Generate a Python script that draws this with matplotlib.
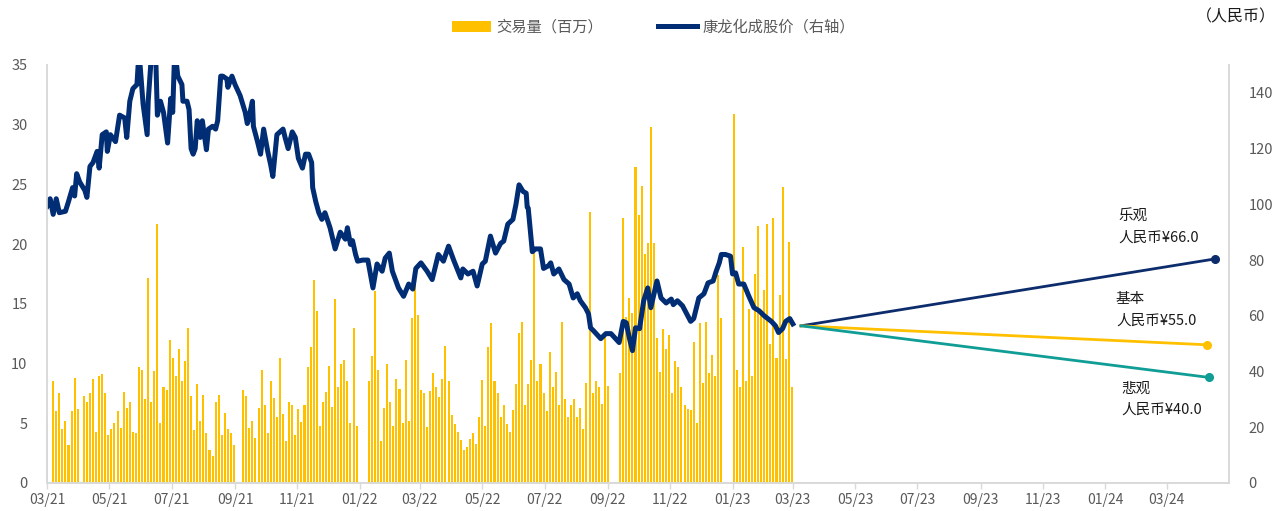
import matplotlib
matplotlib.use("Agg")
import matplotlib.pyplot as plt
import matplotlib.dates as mdates
from matplotlib.patches import Patch
from matplotlib.lines import Line2D
import pandas as pd

plt.rcParams['font.family'] = ['Noto Sans CJK SC', 'DejaVu Sans']

# daily volume (millions), sampled every 3 days from 2021-03-01
volume = [
    5.0, 0, 8.5, 6.0, 7.5, 4.5, 5.2, 3.2, 6.0, 8.8,
    6.2, 0, 7.3, 6.8, 7.5, 8.7, 4.3, 9.0, 9.1, 7.5,
    4.0, 4.5, 5.0, 6.0, 4.6, 7.6, 6.3, 6.8, 4.3, 4.2,
    9.7, 9.5, 7.0, 17.2, 6.8, 9.4, 21.7, 5.0, 8.0, 7.8,
    12.0, 10.5, 9.0, 11.2, 8.5, 10.2, 13.0, 7.3, 4.4, 8.3,
    5.2, 7.4, 4.2, 2.8, 2.3, 6.8, 7.4, 4.0, 5.9, 4.5,
    4.2, 3.2, 0, 0, 7.8, 7.3, 4.6, 5.2, 3.8, 6.3,
    9.5, 6.5, 4.2, 8.5, 7.1, 5.5, 10.5, 5.8, 3.5, 6.8,
    6.5, 4.0, 6.2, 5.1, 6.5, 9.7, 11.4, 17.0, 14.4, 4.8,
    6.8, 7.6, 9.8, 6.4, 15.4, 8.0, 10.0, 10.3, 8.5, 5.0,
    13.0, 4.8, 0, 0, 0, 8.5, 10.6, 16.1, 9.5, 3.5,
    6.3, 10.0, 6.8, 4.8, 8.7, 7.9, 5.0, 10.3, 5.2, 13.8,
    16.6, 14.1, 7.8, 7.5, 4.7, 7.7, 9.2, 8.0, 7.2, 8.7,
    11.5, 8.5, 5.7, 4.9, 4.3, 3.6, 2.8, 3.0, 3.7, 4.2,
    3.3, 5.5, 8.6, 4.8, 11.4, 13.4, 8.5, 7.5, 5.5, 6.5,
    4.9, 4.3, 6.1, 8.3, 12.6, 13.5, 6.5, 8.3, 10.3, 19.3,
    8.5, 10.0, 7.5, 6.0, 11.0, 8.0, 9.3, 6.5, 13.5, 7.0,
    5.5, 6.5, 7.0, 5.5, 6.3, 4.5, 8.4, 22.7, 7.5, 8.5,
    8.0, 6.6, 12.4, 8.1, 0, 0, 0, 9.2, 22.2, 13.9,
    15.5, 14.2, 26.5, 22.4, 24.9, 19.2, 20.1, 29.8, 20.1, 12.1,
    9.3, 12.9, 11.2, 12.4, 7.5, 10.2, 9.7, 8.0, 6.5, 6.2,
    6.1, 11.8, 5.0, 13.4, 8.4, 13.5, 9.2, 10.7, 9.0, 17.4,
    13.8, 0, 0, 0, 30.9, 9.5, 8.0, 19.8, 8.5, 14.6,
    9.0, 17.5, 21.5, 14.2, 16.2, 21.7, 11.6, 22.2, 10.5, 15.7,
    24.8, 10.4, 20.2, 8.0,
]

# share price (RMB), days since 2021-03-01
price_days = [
    0, 3, 6, 9, 12, 18, 21, 25, 27, 29, 32, 37, 39, 42, 45, 49, 51, 54, 58, 59,
    62, 67, 71, 76, 78, 81, 84, 88, 90, 94, 98, 99, 103, 106, 108, 111, 114, 118, 121, 123,
    125, 128, 132, 133, 137, 139, 141, 143, 145, 147, 150, 152, 156, 158, 162, 165, 167, 170, 172, 176,
    177, 181, 184, 189, 194, 196, 197, 201, 202, 206, 209, 212, 216, 219, 221, 225, 228, 231, 233, 236,
    240, 243, 246, 250, 253, 256, 259, 260, 263, 266, 269, 272, 277, 282, 287, 292, 294, 297, 299, 302,
    304, 309, 314, 319, 323, 328, 331, 335, 338, 344, 349, 354, 358, 361, 366, 372, 377, 383, 388, 393,
    398, 405, 407, 412, 417, 421, 426, 429, 434, 439, 444, 447, 451, 456, 459, 462, 466, 469, 470, 471,
    475, 478, 483, 486, 491, 493, 496, 501, 506, 511, 515, 519, 522, 527, 530, 532, 535, 542, 547, 552,
    560, 564, 567, 570, 573, 576, 580, 584, 588, 591, 597, 601, 606, 611, 613, 617, 622, 630, 633, 638,
    643, 647, 652, 655, 658, 660, 664, 669, 671, 674, 677, 682, 687, 692, 697, 702, 709, 713, 716, 720,
    723, 727, 730,
]
price_vals = [
    99.3, 102, 96.4, 102, 97, 97.5, 101, 106, 103, 111, 108, 105, 102.5, 113.6, 115, 119, 113, 125, 126, 119,
    125, 122.5, 132, 131, 124, 137, 141.5, 143, 155, 136, 125, 137, 158, 158, 132, 137, 133, 122, 138, 133,
    156, 146, 143, 137, 137, 134, 120, 118, 120, 130, 124, 130, 119.6, 127, 128, 127, 130, 146, 146, 145,
    142, 146, 143, 139, 133, 129, 130, 137, 128, 122.5, 118, 127, 119, 114, 110, 125, 126, 127, 124, 120,
    126, 124, 116.5, 113, 118, 118, 115, 106, 101, 97, 94.6, 97, 91.6, 84, 90, 87.5, 91.6, 85.6, 87, 82,
    79.6, 80, 80, 70, 78.6, 76, 80.7, 82.5, 76, 70, 67, 71.4, 69.6, 77, 79, 76, 73, 82, 79.6, 85,
    80, 73.6, 76.8, 75, 76, 70.7, 78.6, 79.6, 88.6, 82.5, 86, 86.8, 92.9, 94.6, 100, 107, 104.6, 104, 99, 98.6,
    83, 84, 84, 77, 78, 79, 75, 76.8, 73, 71.4, 66.4, 67.9, 65.4, 62.9, 60.7, 55.7, 54.6, 51.8, 53.6, 53.6,
    50.4, 58, 57.5, 52, 47.5, 55.7, 55.4, 65.4, 70, 62.9, 72.5, 66.4, 64.6, 66, 64, 65.4, 63.6, 58, 59, 66.4,
    67.9, 71.8, 72.5, 76, 79, 82, 82, 81.4, 75, 75.4, 71.4, 71.4, 67, 62.9, 61.8, 60, 58, 56.4, 54, 55.4,
    58, 59, 57.1,
]

# target price scenarios
scenario_start = ('2023-03-09', 56.4)
scenario_names = ['乐观', '基本', '悲观']
scenario_labels = ['人民币¥66.0', '人民币¥55.0', '人民币¥40.0']
scenario_end_dates = ['2024-04-17', '2024-04-09', '2024-04-11']
scenario_end_vals = [80.4, 49.6, 37.9]
scenario_colors = ['#0D2C6C', '#FFC000', '#109D96']

start = pd.Timestamp('2021-03-01')
vol_dates = pd.date_range(start, periods=len(volume), freq='3D')
price_dates = start + pd.to_timedelta(price_days, unit='D')

fig = plt.figure(figsize=(12.82, 5.11), dpi=100)
ax = fig.add_axes([0.0367, 0.0548, 0.922, 0.818])
ax2 = ax.twinx()

ax.bar(vol_dates, volume, width=2.0, color='#FFC000', linewidth=0)
ax2.plot(price_dates, price_vals, color='#002D74', lw=3.6, solid_joinstyle='round')

for end_d, end_v, col in zip(scenario_end_dates, scenario_end_vals, scenario_colors):
    ax2.plot([pd.Timestamp(scenario_start[0]), pd.Timestamp(end_d)],
             [scenario_start[1], end_v], color=col, lw=2,
             marker='o', markevery=[1], markersize=5.5)

ax.set_xlim(start, pd.Timestamp('2024-05-01'))
ax.set_ylim(0, 35)
ax2.set_ylim(0, 150)
ax.set_yticks(range(0, 36, 5))
ax2.set_yticks(range(0, 141, 20))

ticks = pd.date_range('2021-03-01', '2024-03-01', freq='2MS')
ax.set_xticks(ticks)
ax.xaxis.set_major_formatter(mdates.DateFormatter('%m/%y'))

grey = '#D9D9D9'
for a in (ax, ax2):
    a.spines['top'].set_visible(False)
    for s in ('left', 'right', 'bottom'):
        a.spines[s].set_color(grey)
        a.spines[s].set_linewidth(1.2)
ax.tick_params(axis='x', colors='#595959', labelsize=10, length=4, width=1, color=grey, pad=3)
ax.tick_params(axis='y', colors='#595959', labelsize=10.5, length=0, pad=14)
ax2.tick_params(axis='y', colors='#595959', labelsize=10.5, length=0, pad=14)

# scenario annotations
W, H = 1282, 511
text_pos = [(1118, 227), (1116, 310), (1121, 399)]
for (px, py), name, lab in zip(text_pos, scenario_names, scenario_labels):
    fig.text(px / W, 1 - py / H, name + '\n' + lab, fontsize=10.5, color='#1A1A1A',
             va='center', ha='left', linespacing=1.65)

fig.text(1276 / W, 1 - 17 / H, '（人民币）', fontsize=11.5, color='#1A1A1A', ha='right', va='center')

handles = [Patch(facecolor='#FFC000', edgecolor='none'),
           Line2D([0], [0], color='#002D74', lw=3.6)]
fig.legend(handles, ['交易量（百万）', '康龙化成股价（右轴）'], loc='center',
           bbox_to_anchor=(0.51, 0.947), ncol=2, frameon=False, fontsize=11,
           labelcolor='#595959', handlelength=2.5, columnspacing=3.6, handletextpad=0.4)

fig.savefig('out.png', dpi=100)
